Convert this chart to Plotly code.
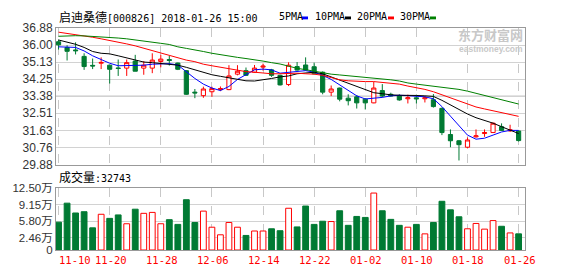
import plotly.graph_objects as go

# ---------------- data ----------------
dates = ["11-10","11-13","11-14","11-15","11-16","11-17","11-20","11-21","11-22","11-23",
         "11-24","11-27","11-28","11-29","11-30","12-01","12-04","12-05","12-06","12-07",
         "12-08","12-11","12-12","12-13","12-14","12-15","12-18","12-19","12-20","12-21",
         "12-22","12-25","12-26","12-27","12-28","12-29","01-02","01-03","01-04","01-05",
         "01-08","01-09","01-10","01-11","01-12","01-15","01-16","01-17","01-18","01-19",
         "01-22","01-23","01-24","01-25","01-26"]

opens = [36.17,35.88,35.75,35.42,34.96,35.07,34.97,34.83,34.82,35.18,
         34.82,34.82,35.16,35.26,35.08,34.69,33.59,33.41,33.61,33.72,
         33.72,34.51,34.69,34.61,34.87,34.73,34.45,33.98,34.90,34.98,
         34.89,34.61,33.59,33.80,33.28,33.35,33.23,33.04,33.67,33.48,
         33.39,33.25,33.30,33.25,33.20,32.76,31.42,31.10,30.77,31.30,
         31.47,31.52,31.82,31.61,31.60]
highs = [36.28,35.99,36.14,35.58,35.31,35.37,34.99,35.26,35.26,35.50,
         35.18,35.58,35.50,35.44,35.10,34.72,33.75,33.87,33.87,33.88,
         34.97,34.97,34.85,34.98,35.05,34.78,34.48,35.12,35.13,35.37,
         35.10,34.65,33.93,33.82,33.48,33.44,33.28,34.12,34.00,33.56,
         33.48,33.46,33.46,33.38,33.49,32.80,31.68,31.14,31.27,31.68,
         31.68,32.03,31.99,31.92,31.63]
lows = [35.77,35.21,35.52,34.73,34.77,34.77,34.03,34.42,34.42,34.66,
        34.48,34.56,34.86,34.95,34.72,33.45,33.28,33.30,33.35,33.64,
        33.69,34.45,34.42,34.58,34.69,34.37,33.93,33.90,34.69,34.69,
        34.50,33.48,33.39,33.12,32.91,32.75,32.70,33.02,33.32,33.35,
        33.15,33.01,33.01,33.06,32.80,31.39,30.77,30.09,30.71,31.26,
        31.30,31.50,31.60,31.55,31.06]
closes = [36.01,35.68,35.71,34.90,34.93,35.11,34.76,34.80,35.10,34.66,
          34.97,35.23,35.28,35.21,34.76,33.48,33.55,33.75,33.77,33.77,
          34.42,34.66,34.45,34.82,34.92,34.45,33.96,34.97,34.72,34.72,
          34.53,33.59,33.75,33.23,33.15,33.04,33.04,33.80,33.39,33.39,
          33.19,33.30,33.25,33.30,32.85,31.52,31.10,30.90,31.14,31.35,
          31.52,32.00,31.63,31.66,31.11]

ma5 = [35.91,35.91,35.88,35.70,35.45,35.26,35.07,34.94,34.94,34.94,
       34.97,35.02,35.02,35.05,34.98,34.61,34.29,34.00,33.80,33.67,
       33.88,34.24,34.48,34.73,34.77,34.73,34.56,34.61,34.66,34.69,
       34.61,34.45,34.24,33.96,33.64,33.40,33.24,33.28,33.32,33.40,
       33.43,33.41,33.38,33.35,33.25,32.85,32.36,31.87,31.39,31.18,
       31.23,31.39,31.55,31.63,31.63]
ma10 = [36.26,36.15,36.04,35.88,35.67,35.58,35.55,35.45,35.34,35.21,
        35.13,35.10,35.05,35.03,34.97,34.86,34.73,34.61,34.48,34.40,
        34.32,34.26,34.17,34.16,34.21,34.29,34.37,34.42,34.53,34.56,
        34.61,34.53,34.37,34.21,34.04,33.88,33.72,33.56,33.51,33.45,
        33.43,33.44,33.42,33.40,33.37,33.17,32.93,32.68,32.47,32.28,
        32.15,32.00,31.82,31.66,31.47]
ma20 = [36.66,36.60,36.54,36.47,36.40,36.32,36.24,36.16,36.06,35.96,
        35.84,35.72,35.60,35.47,35.34,35.23,35.15,35.02,34.94,34.86,
        34.79,34.73,34.64,34.61,34.56,34.53,34.53,34.56,34.56,34.53,
        34.51,34.45,34.32,34.22,34.17,34.14,34.13,34.13,34.09,34.05,
        34.00,33.90,33.83,33.73,33.61,33.46,33.30,33.14,32.98,32.83,
        32.73,32.64,32.54,32.44,32.35]
ma30 = [36.45,36.48,36.48,36.47,36.45,36.43,36.40,36.36,36.32,36.27,
        36.21,36.15,36.09,36.03,35.91,35.83,35.76,35.67,35.58,35.50,
        35.44,35.37,35.31,35.26,35.18,35.10,35.03,34.92,34.81,34.74,
        34.66,34.58,34.51,34.47,34.43,34.40,34.35,34.32,34.27,34.22,
        34.16,34.06,34.00,33.95,33.90,33.85,33.80,33.73,33.64,33.53,
        33.41,33.32,33.22,33.09,32.98]

volumes = [5.64,9.49,7.50,7.76,4.49,7.24,6.41,7.11,5.32,8.27,
           7.43,7.62,5.32,6.15,5.19,10.19,5.58,7.88,4.62,3.08,
           5.58,4.62,2.95,3.85,3.85,4.30,3.91,8.46,4.68,8.91,
           5.19,5.83,5.77,7.95,5.00,6.80,6.60,11.54,7.95,6.21,
           5.00,4.62,5.19,3.27,5.58,9.87,8.14,6.73,4.30,5.38,
           4.23,5.96,4.81,3.46,3.27]  # 万

price_ticks = [29.88, 30.76, 31.63, 32.51, 33.38, 34.25, 35.13, 36.00, 36.88]
vol_ticks = [0, 2.46, 5.80, 9.15, 12.50]
vol_tick_text = ["0", "2.46万", "5.80万", "9.15万", "12.50万"]
x_labels = ["11-10","11-20","11-28","12-06","12-14","12-22","01-02","01-10","01-18","01-26"]

title_name = "启迪桑德"
title_rest = "[000826] 2018-01-26 15:00"
vol_title = "成交量"
last_volume = "32743"
ma_names = ["5PMA", "10PMA", "20PMA", "30PMA"]

# ---------------- styles ----------------
W, H = 578, 276
L, R = 56, 525
UP = "#ff0000"
DOWN = "#007a33"
MA_COLORS = ["#0000ff", "#000000", "#ff0000", "#008000"]
GRID = "#d2d2d2"
FRAME = "#999999"
MONO = "DejaVu Sans Mono"
CJK = "Noto Sans CJK SC"

def px_x(p):
    return (p - L) / (R - L)

def px_y(p):
    return (H - p) / H

x = list(range(len(dates)))
tick_idx = [dates.index(d) for d in x_labels]

fig = go.Figure()

fig.add_trace(go.Candlestick(
    x=x, open=opens, high=highs, low=lows, close=closes,
    increasing=dict(line=dict(color=UP, width=1), fillcolor="#ffffff"),
    decreasing=dict(line=dict(color=DOWN, width=1), fillcolor=DOWN),
    whiskerwidth=0, hoverinfo="skip", showlegend=False,
    xaxis="x", yaxis="y"))

for name, vals, col in zip(ma_names, [ma5, ma10, ma20, ma30], MA_COLORS):
    fig.add_trace(go.Scatter(x=x, y=vals, mode="lines", name=name,
                             line=dict(color=col, width=1), hoverinfo="skip",
                             showlegend=False, xaxis="x", yaxis="y"))

up_flags = [c >= o for o, c in zip(opens, closes)]
fig.add_trace(go.Bar(
    x=x, y=volumes, width=0.68,
    marker=dict(color=["#ffffff" if u else DOWN for u in up_flags],
                line=dict(color=[UP if u else DOWN for u in up_flags], width=1)),
    hoverinfo="skip", showlegend=False, xaxis="x2", yaxis="y2"))

axis_common = dict(showline=True, mirror=True, linecolor=FRAME, linewidth=1,
                   zeroline=False, ticks="")
xrange = [-0.3, len(dates) - 0.25]

fig.update_layout(
    width=W, height=H,
    margin=dict(l=L, r=W - R, t=0, b=0, pad=0),
    paper_bgcolor="white", plot_bgcolor="white",
    showlegend=False,
    bargap=0.3,
    xaxis=dict(domain=[0, 1], anchor="y", range=xrange, tickvals=tick_idx,
               showticklabels=False, showgrid=True, gridcolor="#c8c8c8",
               griddash="dash", gridwidth=1, rangeslider=dict(visible=False),
               **axis_common),
    yaxis=dict(domain=[px_y(166), px_y(22)], range=[price_ticks[0], price_ticks[-1]],
               tickvals=price_ticks, ticktext=[f"{v:.2f}" for v in price_ticks],
               showgrid=True, gridcolor=GRID, gridwidth=1,
               tickfont=dict(family="Liberation Sans", size=12, color="#333333"),
               **axis_common),
    xaxis2=dict(domain=[0, 1], anchor="y2", range=xrange, tickvals=tick_idx,
                showticklabels=False, showgrid=True, gridcolor="#c8c8c8",
                griddash="dash", gridwidth=1, matches="x", **axis_common),
    yaxis2=dict(domain=[px_y(256), px_y(191)], range=[vol_ticks[0], vol_ticks[-1]],
                tickvals=vol_ticks, ticktext=vol_tick_text,
                showgrid=True, gridcolor=GRID, gridwidth=1,
                tickfont=dict(family="Liberation Sans, " + CJK, size=11.5, color="#333333"),
                **axis_common),
)

shapes = []
# darker middle line of price panel
shapes.append(dict(type="line", xref="paper", yref="y", x0=0, x1=1,
                   y0=price_ticks[4], y1=price_ticks[4],
                   line=dict(color=FRAME, width=1), layer="below"))

annotations = []
# title
annotations.append(dict(
    xref="paper", yref="paper", x=px_x(57), y=px_y(10), xanchor="left", yanchor="middle",
    text=f'<span style="font-family:{CJK};font-size:12px">{title_name}</span>{title_rest}',
    showarrow=False, font=dict(family=MONO, size=10, color="#000000")))

# MA legend: text then coloured dash
leg_text_x = [277, 313, 355, 398]
leg_dash_x = [302, 345, 388, 430]
for name, col, tx, dx in zip(ma_names, MA_COLORS, leg_text_x, leg_dash_x):
    annotations.append(dict(xref="paper", yref="paper", x=px_x(tx), y=px_y(10),
                            xanchor="left", yanchor="middle", text=name, showarrow=False,
                            font=dict(family=MONO, size=10, color="#000000")))
    shapes.append(dict(type="rect", xref="paper", yref="paper",
                       x0=px_x(dx), x1=px_x(dx + 6), y0=px_y(13), y1=px_y(10),
                       fillcolor=col, line=dict(width=0)))

# volume caption
annotations.append(dict(
    xref="paper", yref="paper", x=px_x(57), y=px_y(179), xanchor="left", yanchor="middle",
    text=f'<span style="font-family:{CJK};font-size:12px">{vol_title}</span>:{last_volume}',
    showarrow=False, font=dict(family=MONO, size=10, color="#000000")))

# date labels
for i, (lbl, idx) in enumerate(zip(x_labels, tick_idx)):
    annotations.append(dict(xref="x2", yref="paper", x=idx, y=px_y(267),
                            xanchor="center", yanchor="middle", text=lbl, showarrow=False,
                            xshift=16 if i == 0 else 1,
                            font=dict(family=MONO, size=10.5, color="#ff0000")))

# watermark (logo text)
annotations.append(dict(xref="paper", yref="paper", x=px_x(525), y=px_y(29),
                        xanchor="right", yanchor="middle", text="<b>东方财富网</b>",
                        showarrow=False, font=dict(family=CJK, size=13, color="#c8c8c8")))
annotations.append(dict(xref="paper", yref="paper", x=px_x(525), y=px_y(44),
                        xanchor="right", yanchor="middle", text="<b>eastmoney.com</b>",
                        showarrow=False, font=dict(family="Liberation Sans", size=8.5,
                                                   color="#c8c8c8")))

fig.update_layout(shapes=shapes, annotations=annotations)

fig.write_html("out.html")
